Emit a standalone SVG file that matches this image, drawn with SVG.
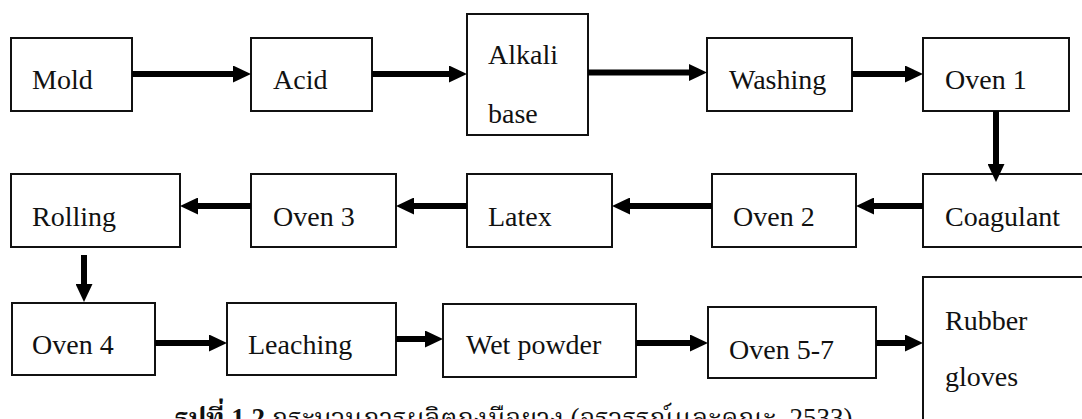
<svg xmlns="http://www.w3.org/2000/svg" width="1082" height="419" viewBox="0 0 1082 419">
  <style>
    .box { fill: #ffffff; stroke: #111111; stroke-width: 2; }
    .lbl { font-size: 28px; fill: #111111; }
    .flow { stroke: #000000; stroke-width: 6; fill: none; marker-end: url(#head); }
    .cap { font-size: 27px; fill: #111111; }
  </style>
  <defs>
    <marker id="head" markerUnits="userSpaceOnUse" markerWidth="18" markerHeight="17" refX="1" refY="8.5" orient="auto" viewBox="0 0 18 17">
      <path d="M0,0 L18,8.5 L0,17 Z" fill="#000000"/>
    </marker>
  </defs>

  <rect width="1082" height="419" fill="#ffffff"/>

  <!-- process steps; all labels share one serif face set on the group -->
  <g font-family="Liberation Serif, Times New Roman, DejaVu Serif, serif">
  <g id="mold"><rect class="box" x="11" y="38" width="121" height="73"/><text class="lbl" x="32" y="89">Mold</text></g>
  <g id="acid"><rect class="box" x="251" y="38" width="121" height="73"/><text class="lbl" x="273" y="89">Acid</text></g>
  <g id="alkali-base"><rect class="box" x="467" y="14" width="121" height="121"/><text class="lbl" x="488" y="64">Alkali</text><text class="lbl" x="488" y="123">base</text></g>
  <g id="washing"><rect class="box" x="707" y="38" width="145" height="73"/><text class="lbl" x="729" y="89">Washing</text></g>
  <g id="oven-1"><rect class="box" x="923" y="38" width="146" height="73"/><text class="lbl" x="945" y="89">Oven 1</text></g>
  <g id="coagulant"><rect class="box" x="923" y="174" width="167" height="73"/><text class="lbl" x="945" y="226">Coagulant</text></g>
  <g id="oven-2"><rect class="box" x="712" y="174" width="144" height="73"/><text class="lbl" x="733" y="226">Oven 2</text></g>
  <g id="latex"><rect class="box" x="467" y="174" width="145" height="73"/><text class="lbl" x="488" y="226">Latex</text></g>
  <g id="oven-3"><rect class="box" x="251" y="174" width="145" height="73"/><text class="lbl" x="273" y="226">Oven 3</text></g>
  <g id="rolling"><rect class="box" x="11" y="174" width="169" height="73"/><text class="lbl" x="32" y="226">Rolling</text></g>
  <g id="oven-4"><rect class="box" x="12" y="303" width="143" height="72"/><text class="lbl" x="32" y="354">Oven 4</text></g>
  <g id="leaching"><rect class="box" x="227" y="303" width="169" height="72"/><text class="lbl" x="248" y="354">Leaching</text></g>
  <g id="wet-powder"><rect class="box" x="443" y="304" width="193" height="73"/><text class="lbl" x="466" y="354">Wet powder</text></g>
  <g id="oven-5-7"><rect class="box" x="708" y="307" width="168" height="71"/><text class="lbl" x="729" y="359">Oven 5-7</text></g>
  <g id="rubber-gloves"><rect class="box" x="923" y="277" width="167" height="163"/><text class="lbl" x="945" y="330">Rubber</text><text class="lbl" x="945" y="386">gloves</text></g>
  </g>

  <!-- connectors: each line stops at the base of its arrowhead -->
  <g id="connectors">
    <line class="flow" x1="132" y1="74" x2="234" y2="74"/>
    <line class="flow" x1="372" y1="74" x2="450" y2="74"/>
    <line class="flow" x1="588" y1="72.5" x2="690" y2="72.5"/>
    <line class="flow" x1="852" y1="74" x2="906" y2="74"/>
    <line class="flow" x1="996" y1="111" x2="996" y2="165"/>
    <line class="flow" x1="923" y1="206" x2="873" y2="206"/>
    <line class="flow" x1="712" y1="206" x2="629" y2="206"/>
    <line class="flow" x1="467" y1="206" x2="413" y2="206"/>
    <line class="flow" x1="251" y1="206" x2="197" y2="206"/>
    <line class="flow" x1="84" y1="255" x2="84" y2="285"/>
    <line class="flow" x1="155" y1="343" x2="210" y2="343"/>
    <line class="flow" x1="396" y1="339" x2="426" y2="339"/>
    <line class="flow" x1="636" y1="343" x2="691" y2="343"/>
    <line class="flow" x1="876" y1="343" x2="906" y2="343"/>
  </g>

  <!-- figure caption -->
  <text class="cap" font-family="Liberation Serif, DejaVu Serif, Noto Serif Thai, Noto Sans Thai, serif" x="175" y="427"><tspan font-weight="bold">รูปที่ 1.2</tspan> กระบวนการผลิตถุงมือยาง (อรวรรณ์และคณะ, 2533)</text>
</svg>
